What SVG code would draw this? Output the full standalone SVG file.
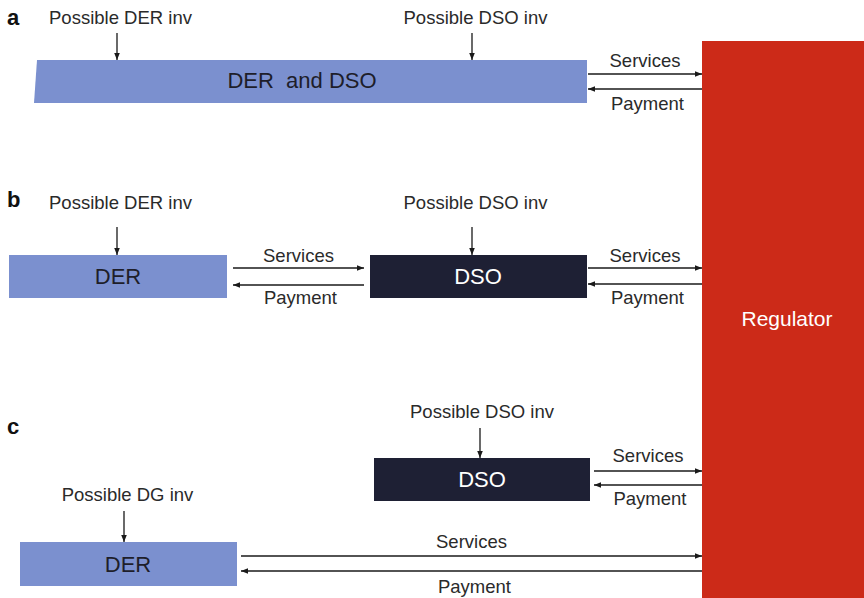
<svg xmlns="http://www.w3.org/2000/svg" width="864" height="598" viewBox="0 0 864 598">
<defs>
<marker id="ah" viewBox="0 0 10 10" refX="10" refY="5" markerWidth="7" markerHeight="7" markerUnits="userSpaceOnUse" orient="auto">
<path d="M0,1 L10,5 L0,9 z" fill="#1a1a1a"/>
</marker>
<style>
.t{font-family:"Liberation Sans",Arial,sans-serif;font-size:18.5px;fill:#2a2a2a;text-anchor:middle}
.bt{font-family:"Liberation Sans",Arial,sans-serif;font-size:22px;text-anchor:middle}
.lab{font-family:"Liberation Sans",Arial,sans-serif;font-size:22px;font-weight:bold;fill:#111}
.blue{fill:#7b90cf}
.dark{fill:#1e2034}
.ln{stroke:#1a1a1a;stroke-width:1.3;fill:none;marker-end:url(#ah)}
</style>
</defs>
<rect width="864" height="598" fill="#ffffff"/>

<g id="regulator">
<rect x="702" y="41" width="162" height="557" fill="#cc2a18"/>
<text class="bt" x="787" y="326" fill="#ffffff" style="font-size:21px">Regulator</text>
</g>

<g id="panel-labels">
<text class="lab" x="7" y="25">a</text>
<text class="lab" x="7" y="207">b</text>
<text class="lab" x="7" y="434">c</text>
</g>

<g id="a-der-dso">
<polygon class="blue" points="37,60 587,60 587,103 34,103"/>
<text class="bt" x="302" y="88" fill="#1e1e2a" xml:space="preserve">DER  and DSO</text>
</g>
<g id="b-der">
<rect class="blue" x="9" y="255" width="218" height="43"/>
<text class="bt" x="118" y="284" fill="#1e1e2a">DER</text>
</g>
<g id="b-dso">
<rect class="dark" x="370" y="255" width="217" height="43"/>
<text class="bt" x="478" y="284" fill="#ffffff">DSO</text>
</g>
<g id="c-dso">
<rect class="dark" x="374" y="458" width="216" height="43"/>
<text class="bt" x="482" y="487" fill="#ffffff">DSO</text>
</g>
<g id="c-der">
<rect class="blue" x="20" y="542" width="217" height="44"/>
<text class="bt" x="128" y="572" fill="#1e1e2a">DER</text>
</g>

<g id="connectors">
<line class="ln" x1="117" y1="33" x2="117" y2="60"/>
<line class="ln" x1="472" y1="33" x2="472" y2="60"/>
<line class="ln" x1="117" y1="227" x2="117" y2="255"/>
<line class="ln" x1="472" y1="227" x2="472" y2="255"/>
<line class="ln" x1="480" y1="428" x2="480" y2="458"/>
<line class="ln" x1="124" y1="511" x2="124" y2="542"/>
<line class="ln" x1="588" y1="74" x2="702" y2="74"/>
<line class="ln" x1="702" y1="89" x2="588" y2="89"/>
<line class="ln" x1="233" y1="268" x2="364" y2="268"/>
<line class="ln" x1="364" y1="285" x2="233" y2="285"/>
<line class="ln" x1="588" y1="268" x2="702" y2="268"/>
<line class="ln" x1="702" y1="284" x2="588" y2="284"/>
<line class="ln" x1="594" y1="471" x2="702" y2="471"/>
<line class="ln" x1="702" y1="485" x2="594" y2="485"/>
<line class="ln" x1="241" y1="556" x2="702" y2="556"/>
<line class="ln" x1="702" y1="571" x2="241" y2="571"/>
</g>

<g id="texts">
<text class="t" x="120.5" y="24">Possible DER inv</text>
<text class="t" x="475.5" y="24">Possible DSO inv</text>
<text class="t" x="645" y="67">Services</text>
<text class="t" x="647.5" y="110">Payment</text>

<text class="t" x="120.5" y="209">Possible DER inv</text>
<text class="t" x="475.5" y="209">Possible DSO inv</text>
<text class="t" x="298.5" y="262">Services</text>
<text class="t" x="300.5" y="304">Payment</text>
<text class="t" x="645" y="262">Services</text>
<text class="t" x="647.5" y="304">Payment</text>

<text class="t" x="482" y="418">Possible DSO inv</text>
<text class="t" x="648" y="462">Services</text>
<text class="t" x="650" y="505">Payment</text>
<text class="t" x="127.5" y="501">Possible DG inv</text>
<text class="t" x="471.5" y="548">Services</text>
<text class="t" x="474.5" y="593">Payment</text>
</g>
</svg>
